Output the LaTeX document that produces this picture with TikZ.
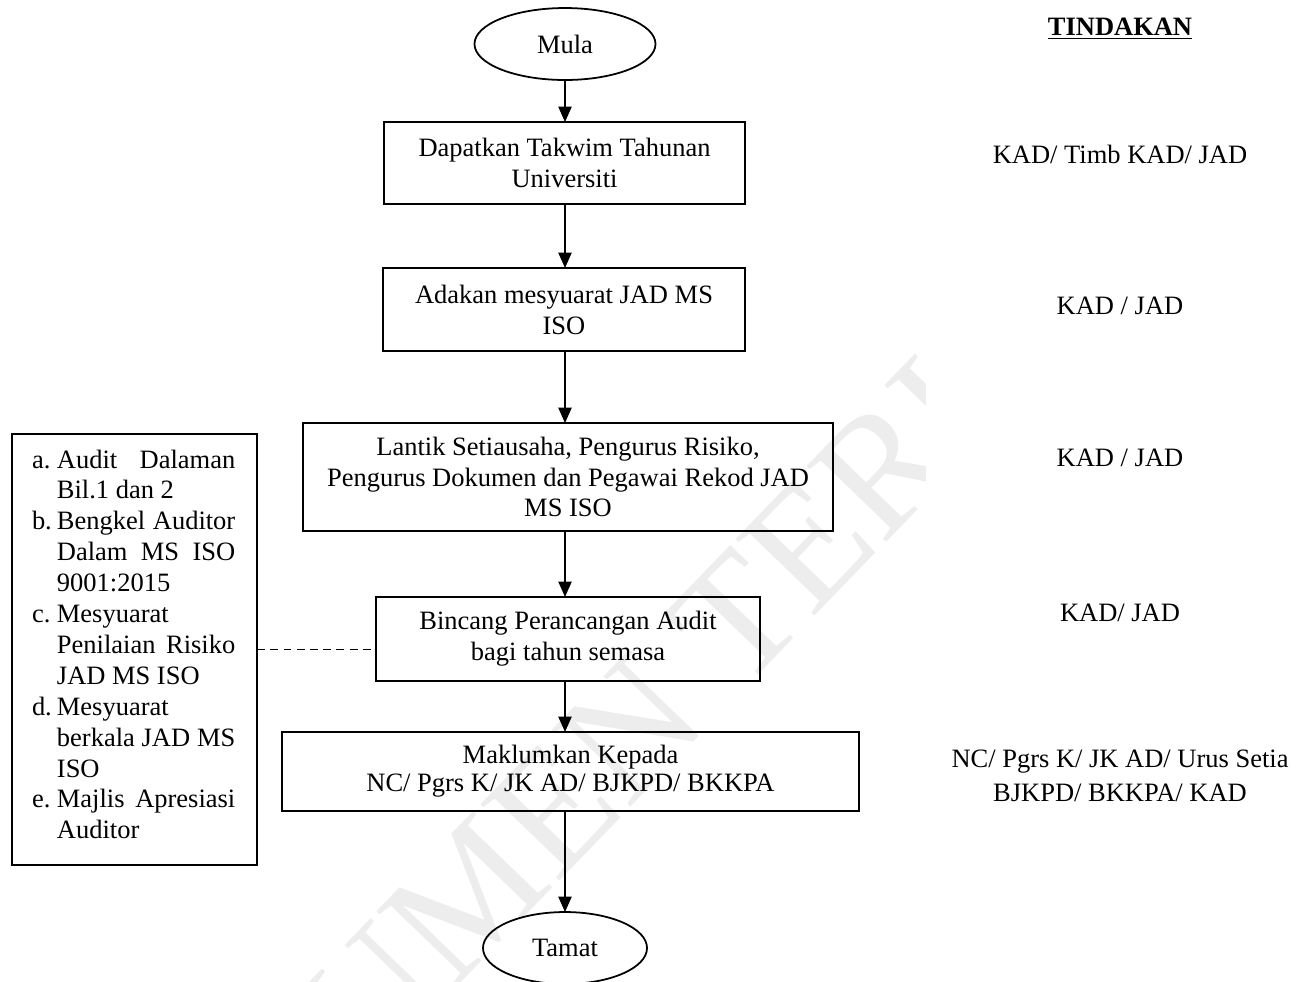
\documentclass[tikz,border=0pt]{standalone}
\usepackage{fontspec}
\setmainfont{Liberation Serif}
\usetikzlibrary{shapes.geometric,arrows.meta}
% stretch a line of the side list to the full column width
\newcommand\jline[1]{\makebox[80.8pt][s]{#1}}
\begin{document}
\fontsize{12}{14}\selectfont
\begin{tikzpicture}[x=0.453pt,y=-0.453pt,
  every node/.style={inner sep=0pt, outer sep=0pt},
  stepbox/.style={draw, line width=0.9pt, rectangle, align=center},
  terminal/.style={draw, line width=0.8pt, ellipse, align=center},
  flow/.style={line width=0.75pt, -{Triangle[length=7pt,width=6pt]}},
  linkline/.style={line width=0.8pt, dash pattern=on 3.6pt off 2.4pt},
  actor/.style={align=center},
  watermark/.style={text=gray!14, font=\fontsize{76}{76}\selectfont},
]
\fill[white] (0,0) rectangle (1299,981);
\useasboundingbox (0,0) rectangle (1299,981);

% faint background stamp
\begin{scope}
  \clip (0,0) rectangle (925,981);
  \node[watermark, anchor=base, rotate=46] (stamp) at (744,690) {DOKUMEN TERKAWAL};
\end{scope}

% main flow
\node[terminal, minimum width=82pt, minimum height=32.6pt] (start) at (565,44) {Mula};
\node[stepbox, minimum width=163.5pt, minimum height=37.1pt] (s1) at (564.5,163)
  {Dapatkan Takwim Tahunan\\Universiti};
\node[stepbox, minimum width=164pt, minimum height=37.6pt] (s2) at (564,309.5)
  {Adakan mesyuarat JAD MS\\ISO};
\node[stepbox, minimum width=240.1pt, minimum height=48.9pt] (s3) at (568,477)
  {Lantik Setiausaha, Pengurus Risiko,\\Pengurus Dokumen dan Pegawai Rekod JAD\\MS ISO};
\node[stepbox, minimum width=174pt, minimum height=38.1pt] (s4) at (568,639)
  {Bincang Perancangan Audit\\bagi tahun semasa};
\node[stepbox, minimum width=261.4pt, minimum height=35.8pt] (s5) at (570.5,771.5)
  {Maklumkan Kepada\\[-1.2pt]NC/ Pgrs K/ JK AD/ BJKPD/ BKKPA};
\node[terminal, minimum width=74.3pt, minimum height=32.6pt] (stop) at (565,948) {Tamat};

\draw[flow] (start.south) -- (start.south |- s1.north);
\draw[flow] (s1.south -| start.south) -- (start.south |- s2.north);
\draw[flow] (s2.south -| start.south) -- (start.south |- s3.north);
\draw[flow] (s3.south -| start.south) -- (start.south |- s4.north);
\draw[flow] (s4.south -| start.south) -- (start.south |- s5.north);
\draw[flow] (s5.south -| start.south) -- (stop.north);

% side list of activities
\node[stepbox, minimum width=111pt, minimum height=195.2pt] (side) at (134.5,649.5) {};
\node[anchor=base west] (sidetext) at (32,468) {%
  \begin{tabular}[t]{@{}p{11.3pt}@{}l@{}}
  a. & \jline{Audit Dalaman}\\
     & Bil.1 dan 2\\
  b. & \jline{Bengkel Auditor}\\
     & \jline{Dalam MS ISO}\\
     & 9001:2015\\
  c. & Mesyuarat\\
     & \jline{Penilaian Risiko}\\
     & JAD MS ISO\\
  d. & Mesyuarat\\
     & \jline{berkala JAD MS}\\
     & ISO\\
  e. & \jline{Majlis Apresiasi}\\
     & Auditor
  \end{tabular}};
\draw[linkline] (side.east) -- (side.east -| s4.west);

% responsible parties
\node[actor] (head) at (1120,29) {\underline{\textbf{TINDAKAN}}};
\node[actor] (a1) at (1120,154) {KAD/ Timb KAD/ JAD};
\node[actor] (a2) at (1120,306) {KAD / JAD};
\node[actor] (a3) at (1120,458) {KAD / JAD};
\node[actor] (a4) at (1120,613) {KAD/ JAD};
\node[actor] (a5) at (1120,776) {NC/ Pgrs K/ JK AD/ Urus Setia\\[1.4pt]BJKPD/ BKKPA/ KAD};
\end{tikzpicture}
\end{document}
